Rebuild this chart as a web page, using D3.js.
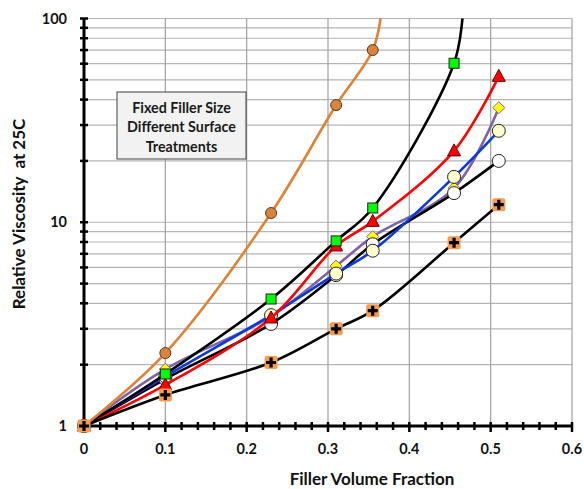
<!DOCTYPE html>
<html><head><meta charset="utf-8">
<script src="https://cdn.jsdelivr.net/npm/d3@7/dist/d3.min.js"></script>
<style>body{margin:0;background:#fff}svg{display:block}text{font-family:Lato,"Open Sans",sans-serif;font-weight:bold}</style>
</head><body><svg id="c" width="584" height="489"></svg>
<script>
const xVals = [0, 0.1, 0.23, 0.31, 0.355, 0.455, 0.51];
const plusSeries   = [1, 1.42, 2.05, 3.0, 3.68, 7.94, 12.2];
const whiteSeries  = [1, 1.7, 3.17, 5.5, 7.8, 13.9, 20];
const blueSeries   = [1, 1.75, 3.5, 5.6, 7.25, 16.7, 28.1];
const purpleSeries = [1, 1.9, 3.45, 6.1, 8.5, 14.7, 36.5];
const redSeries    = [1, 1.59, 3.39, 7.65, 10.1, 22.4, 52];
const greenX = [0, 0.1, 0.23, 0.31, 0.355, 0.455, 0.466];
const greenSeries  = [1, 1.8, 4.2, 8.1, 11.75, 60.3, 110];
const orangeX = [0, 0.1, 0.23, 0.31, 0.355, 0.366];
const orangeSeries = [1, 2.28, 11.1, 37.6, 70, 110];
const xTicks = [0, 0.1, 0.2, 0.3, 0.4, 0.5, 0.6];
const yTicks = [1, 10, 100];
const boxLines = ["Fixed Filler Size", "Different Surface", "Treatments"];

const svg = d3.select("#c");
const L = 84, R = 572, T = 18.5, B = 426;
const x = d3.scaleLinear([0, 0.6], [L, R]);
const y = d3.scaleLog([1, 100], [B, T]);

// grid
const minorY = [];
for (let d = 1; d < 100; d *= 10) for (let k = 2; k <= 10; k++) minorY.push(d * k);
svg.append("g").selectAll("line").data(minorY).join("line")
  .attr("x1", L).attr("x2", R).attr("y1", d => y(d)).attr("y2", d => y(d))
  .attr("stroke", "#b4b4b4").attr("stroke-width", 1.2);
svg.append("g").selectAll("line").data(xTicks.slice(1)).join("line")
  .attr("x1", d => x(d)).attr("x2", d => x(d)).attr("y1", T).attr("y2", B)
  .attr("stroke", "#a0a0a0").attr("stroke-width", 1.2);

// text box
const bx = 117, by = 92, bw = 129, bh = 67;
svg.append("rect").attr("x", bx).attr("y", by).attr("width", bw).attr("height", bh)
  .attr("fill", "#f2f2f2").attr("stroke", "#404040").attr("stroke-width", 1);
svg.append("g").selectAll("text").data(boxLines).join("text")
  .attr("x", bx + bw / 2).attr("y", (d, i) => 112.5 + i * 19.5).attr("text-anchor", "middle")
  .attr("font-size", 14.3).attr("fill", "#1a1a1a").text(d => d);

// axes
const minorX = d3.range(0, 31).map(i => i * 0.02);
svg.append("line").attr("x1", L).attr("x2", R).attr("y1", B).attr("y2", B).attr("stroke", "#000").attr("stroke-width", 3);
svg.append("line").attr("x1", L).attr("x2", L).attr("y1", T).attr("y2", B).attr("stroke", "#000").attr("stroke-width", 3);
svg.append("g").selectAll("line").data(minorX).join("line")
  .attr("x1", d => x(d)).attr("x2", d => x(d))
  .attr("y1", B - 4).attr("y2", (d, i) => B + (i % 5 === 0 ? 6 : 4))
  .attr("stroke", "#000").attr("stroke-width", 2.5);
const yTickAll = [1].concat(minorY);
svg.append("g").selectAll("line").data(yTickAll).join("line")
  .attr("x1", L - 4).attr("x2", L + 4).attr("y1", d => y(d)).attr("y2", d => y(d))
  .attr("stroke", "#000").attr("stroke-width", 2.5);

svg.append("g").selectAll("text").data(xTicks).join("text")
  .attr("x", d => x(d)).attr("y", 454).attr("text-anchor", "middle").attr("font-size", 14.5)
  .attr("fill", "#111").text(d => d === 0 ? "0" : d3.format(".1f")(d));
svg.append("g").selectAll("text").data(yTicks).join("text")
  .attr("x", 67).attr("y", d => y(d) + 5).attr("text-anchor", "end").attr("font-size", 14.5)
  .attr("fill", "#111").text(d => d);

svg.append("text").attr("x", 372).attr("y", 485).attr("text-anchor", "middle").attr("font-size", 17)
  .attr("fill", "#111").text("Filler Volume Fraction");
svg.append("text").attr("transform", "translate(25,214) rotate(-90)").attr("text-anchor", "middle")
  .attr("font-size", 17).attr("fill", "#111").style("white-space", "pre")
  .text("Relative Viscosity  at 25C");

// clip
svg.append("clipPath").attr("id", "clip").append("rect").attr("x", 0).attr("y", T).attr("width", 584).attr("height", 489);

const line = d3.line().x(d => x(d[0])).y(d => y(d[1])).curve(d3.curveCatmullRom.alpha(0.5));

const series = [
  {xs: xVals, ys: purpleSeries, color: "#8064a2", marker: "diamond"},
  {xs: xVals, ys: whiteSeries, color: "#000", marker: "white"},
  {xs: xVals, ys: blueSeries, color: "#0a3adb", marker: "cream"},
  {xs: xVals, ys: redSeries, color: "#ff0000", marker: "tri"},
  {xs: greenX, ys: greenSeries, color: "#000", marker: "square"},
  {xs: orangeX, ys: orangeSeries, color: "#de8238", marker: "orange"},
  {xs: xVals, ys: plusSeries, color: "#000", marker: "plus"}
];

series.forEach(s => {
  const pts = s.xs.map((v, i) => [v, s.ys[i]]);
  const g = svg.append("g");
  g.append("path").attr("d", line(pts)).attr("fill", "none").attr("stroke", s.color)
    .attr("stroke-width", 2.6).attr("clip-path", "url(#clip)");
  const vis = pts.filter(p => p[1] <= 100);
  const m = g.selectAll("g.m").data(vis).join("g").attr("transform", p => `translate(${x(p[0])},${y(p[1])})`);
  if (s.marker === "plus") {
    m.append("rect").attr("x", -6.5).attr("y", -6.5).attr("width", 13).attr("height", 13).attr("rx", 2)
      .attr("fill", "#f59c55");
    m.append("path").attr("d", "M-5,0H5M0,-5V5").attr("stroke", "#000").attr("stroke-width", 3.2);
  } else if (s.marker === "white" || s.marker === "cream") {
    m.append("circle").attr("r", 6.5).attr("fill", s.marker === "white" ? "#fff" : "#ffffcc")
      .attr("stroke", "#222").attr("stroke-width", 1);
  } else if (s.marker === "diamond") {
    m.append("path").attr("d", "M0,-6L6,0L0,6L-6,0Z").attr("fill", "#ffff00").attr("stroke", "#8064a2").attr("stroke-width", 1);
  } else if (s.marker === "tri") {
    m.append("path").attr("d", "M0,-7L6.5,5L-6.5,5Z").attr("fill", "#ff0000").attr("stroke", "#600").attr("stroke-width", 1);
  } else if (s.marker === "square") {
    m.append("rect").attr("x", -5).attr("y", -5).attr("width", 10).attr("height", 10)
      .attr("fill", "#00ff00").attr("stroke", "#222").attr("stroke-width", 1);
  } else if (s.marker === "orange") {
    m.append("circle").attr("r", 5.5).attr("fill", "#d9833f").attr("stroke", "#5a3a1a").attr("stroke-width", 1);
  }
});
</script></body></html>
